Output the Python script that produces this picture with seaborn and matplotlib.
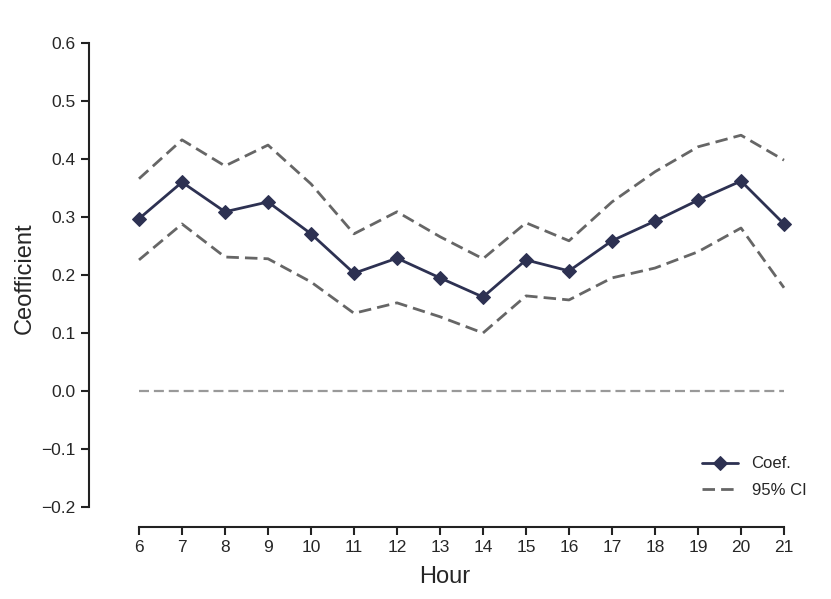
import matplotlib
matplotlib.use("Agg")
import matplotlib.pyplot as plt
import seaborn as sns
import numpy as np

hours = list(range(6, 22))
coef = [0.297, 0.360, 0.309, 0.326, 0.271, 0.203, 0.229, 0.195,
        0.162, 0.226, 0.207, 0.259, 0.293, 0.329, 0.362, 0.288]
ci_upper = [0.366, 0.433, 0.388, 0.424, 0.357, 0.271, 0.309, 0.266,
            0.228, 0.290, 0.259, 0.326, 0.378, 0.421, 0.441, 0.398]
ci_lower = [0.226, 0.288, 0.231, 0.228, 0.188, 0.134, 0.152, 0.128,
            0.100, 0.164, 0.157, 0.195, 0.212, 0.240, 0.281, 0.178]
zero = [0.0] * len(hours)

sns.set_style("ticks")
plt.rcParams['font.family'] = ['Liberation Sans', 'DejaVu Sans']

W, H = 831, 599
fig = plt.figure(figsize=(W / 100, H / 100), dpi=100)
ax = fig.add_axes([89 / W, (H - 527) / H, (800 - 89) / W, (527 - 30) / H])

navy = '#2d3152'
gray = '#666666'
dash = (4.5, 2.2)

sns.lineplot(x=hours, y=zero, ax=ax, color='#999999', linestyle=(0, dash), linewidth=1.6)
sns.lineplot(x=hours, y=ci_upper, ax=ax, color=gray, linestyle=(0, dash), linewidth=2,
             label='95% CI')
sns.lineplot(x=hours, y=ci_lower, ax=ax, color=gray, linestyle=(0, dash), linewidth=2)
sns.lineplot(x=hours, y=coef, ax=ax, color=navy, linewidth=2, marker='D',
             markersize=7, markeredgecolor=navy, label='Coef.')

# axis scaling to place 6 at px 139, 21 at px 784; 0.6 at px 43, -0.2 at px 507
xs = (784 - 139) / 15
ax.set_xlim(6 - (139 - 89) / xs, 6 + (800 - 139) / xs)
ys = (507 - 43) / 0.8
ax.set_ylim(-0.2 - (527 - 507) / ys, -0.2 + (507 - 30) / ys)

ax.set_xticks(hours)
ax.set_yticks(np.arange(-0.2, 0.61, 0.1))
ax.set_yticklabels(['\u22120.2', '\u22120.1', '0.0', '0.1', '0.2', '0.3', '0.4', '0.5', '0.6'])
ax.spines['top'].set_visible(False)
ax.spines['right'].set_visible(False)
ax.spines['left'].set_bounds(-0.2, 0.6)
ax.spines['bottom'].set_bounds(6, 21)
for s in ['left', 'bottom']:
    ax.spines[s].set_linewidth(1.5)
    ax.spines[s].set_color('#222222')
ax.tick_params(axis='both', labelsize=12.5, length=6, width=1.5, color='#222222')

ax.set_xlabel('Hour', fontsize=17, labelpad=8)
ax.set_ylabel('Ceofficient', fontsize=17)

handles, labels = ax.get_legend_handles_labels()
order = [labels.index('Coef.'), labels.index('95% CI')]
ax.legend([handles[i] for i in order], [labels[i] for i in order],
          loc='lower right', bbox_to_anchor=(1.03, 0.028), frameon=False,
          fontsize=12, handlelength=2.2, labelspacing=0.7)

fig.savefig('out.png', dpi=100)
